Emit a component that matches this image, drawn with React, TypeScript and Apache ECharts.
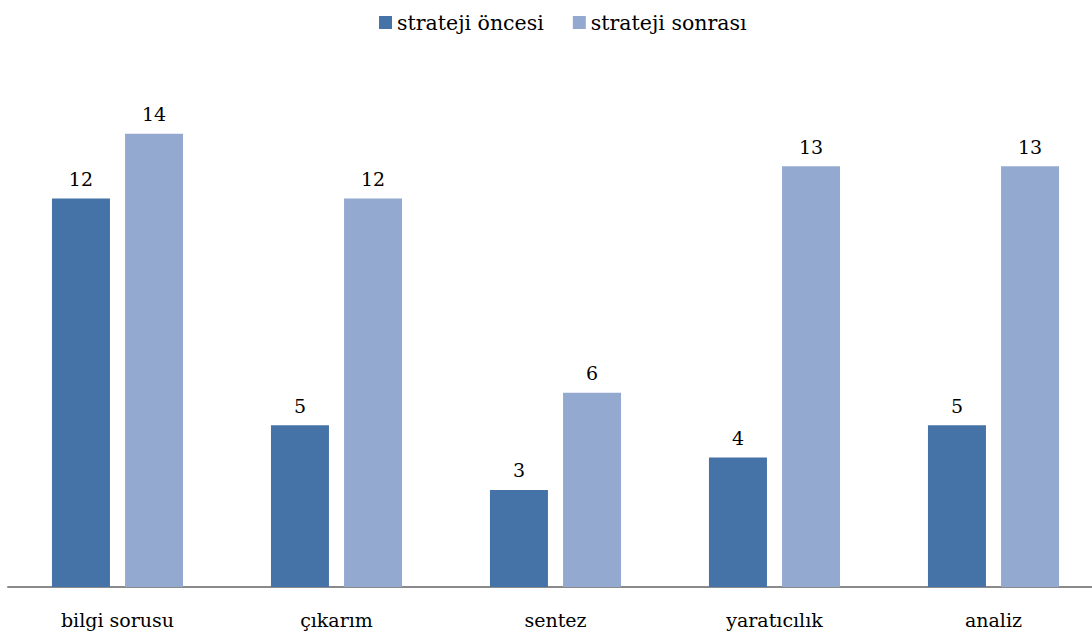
import React, { useEffect, useRef } from "react";
import * as echarts from "echarts";

const categories = ["bilgi sorusu", "çıkarım", "sentez", "yaratıcılık", "analiz"];
const seriesNames = ["strateji öncesi", "strateji sonrası"];
const before = [12, 5, 3, 4, 5];
const after = [14, 12, 6, 13, 13];

const FONT = "DejaVu Serif";

export default function App() {
  const ref = useRef<HTMLDivElement>(null);
  useEffect(() => {
    if (!ref.current) return;
    const chart = echarts.init(ref.current, undefined, { renderer: "svg", width: 1103, height: 637 });
    const label = {
      show: true,
      position: "top",
      distance: 10,
      color: "#000",
      fontFamily: FONT,
      fontSize: 19,
    };
    chart.setOption({
      animation: false,
      textStyle: { fontFamily: FONT },
      legend: {
        top: 7,
        left: 374,
        itemWidth: 13,
        itemHeight: 13,
        itemGap: 29,
        icon: "rect",
        textStyle: { fontFamily: FONT, fontSize: 20.5, color: "#000" },
        data: seriesNames,
      },
      grid: { left: 8, right: 0, top: 69, bottom: 50, containLabel: false },
      xAxis: {
        type: "category",
        data: categories,
        axisLine: { lineStyle: { color: "#8a8a8a", width: 2 } },
        axisTick: { show: false },
        axisLabel: { fontFamily: FONT, fontSize: 19, color: "#000", margin: 23 },
      },
      yAxis: {
        type: "value",
        min: 0,
        max: 16,
        show: false,
        splitLine: { show: false },
      },
      series: [
        {
          name: seriesNames[0],
          type: "bar",
          data: before,
          barWidth: 58,
          barGap: "26%",
          itemStyle: { color: "#4572A7" },
          label,
        },
        {
          name: seriesNames[1],
          type: "bar",
          data: after,
          barWidth: 58,
          barGap: "26%",
          itemStyle: { color: "#93A9D0" },
          label,
        },
      ],
    });
    return () => chart.dispose();
  }, []);
  return (
    <div style={{ position: "fixed", left: 0, top: 0, width: 1092, height: 637, overflow: "hidden", background: "#fff" }}>
      <div ref={ref} style={{ width: 1103, height: 637 }} />
    </div>
  );
}
